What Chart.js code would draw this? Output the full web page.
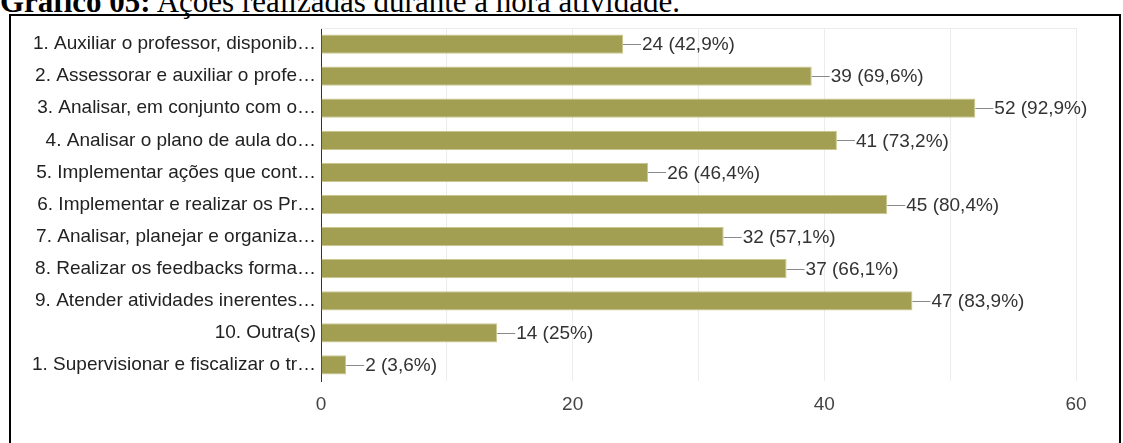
<!DOCTYPE html>
<html>
<head>
<meta charset="utf-8">
<script src="https://cdn.jsdelivr.net/npm/chart.js@4.4.1/dist/chart.umd.min.js"></script>
<style>
  html, body { margin: 0; padding: 0; background: #fff; width: 1123px; height: 443px; overflow: hidden; }
  .title { position: absolute; left: 0; top: -14px; font-family: "Liberation Serif", "Times New Roman", serif; font-size: 31px; line-height: 31px; color: #000; white-space: nowrap; }
  .frame { position: absolute; left: 9px; top: 14px; width: 1112px; height: 440px; border: 2px solid #000; box-sizing: border-box; }
  .chart-wrap { position: absolute; left: 10px; top: 16px; width: 1110px; height: 427px; }
</style>
</head>
<body>
<div class="title"><b>Gráfico 05:</b> Ações realizadas durante a hora atividade.</div>
<div class="frame"></div>
<div class="chart-wrap"><canvas id="acoesChart"></canvas></div>
<script>
// categories (truncated as in the original form export)
const categories = [
  '1. Auxiliar o professor, disponib…',
  '2. Assessorar e auxiliar o profe…',
  '3. Analisar, em conjunto com o…',
  '4. Analisar o plano de aula do…',
  '5. Implementar ações que cont…',
  '6. Implementar e realizar os Pr…',
  '7. Analisar, planejar e organiza…',
  '8. Realizar os feedbacks forma…',
  '9. Atender atividades inerentes…',
  '10. Outra(s)',
  '1. Supervisionar e fiscalizar o tr…'
];
const counts = [24, 39, 52, 41, 26, 45, 32, 37, 47, 14, 2];
const percents = ['42,9%', '69,6%', '92,9%', '73,2%', '46,4%', '80,4%', '57,1%', '66,1%', '83,9%', '25%', '3,6%'];
const xTicksShown = [0, 20, 40, 60];

const BAR_COLOR = '#a29f52';
const FONT = '"Liberation Sans", Arial, sans-serif';

// leader line + "n (p%)" after each bar
const valueLabels = {
  id: 'valueLabels',
  afterDatasetsDraw(chart) {
    const { ctx } = chart;
    const meta = chart.getDatasetMeta(0);
    ctx.save();
    ctx.font = '19px ' + FONT;
    ctx.textBaseline = 'middle';
    meta.data.forEach((bar, i) => {
      const x = bar.x, y = bar.y;
      ctx.strokeStyle = '#8a8a8a';
      ctx.lineWidth = 1;
      ctx.beginPath();
      ctx.moveTo(x, Math.round(y) + 0.5);
      ctx.lineTo(x + 18, Math.round(y) + 0.5);
      ctx.stroke();
      ctx.fillStyle = '#333';
      ctx.fillText(counts[i] + ' (' + percents[i] + ')', x + 19, y + 1);
    });
    // top edge of plot frame
    const a = chart.chartArea;
    ctx.strokeStyle = '#ececec';
    ctx.beginPath();
    ctx.moveTo(a.left, a.top + 0.5);
    ctx.lineTo(a.right, a.top + 0.5);
    ctx.stroke();
    ctx.restore();
  }
};

new Chart(document.getElementById('acoesChart').getContext('2d'), {
  type: 'bar',
  data: {
    labels: categories,
    datasets: [{
      data: counts,
      backgroundColor: BAR_COLOR,
      borderColor: '#c9c68e',
      borderWidth: 1,
      borderSkipped: 'start',
      barPercentage: 0.6,
      categoryPercentage: 1
    }]
  },
  options: {
    indexAxis: 'y',
    responsive: true,
    maintainAspectRatio: false,
    animation: false,
    layout: { padding: { top: 12, right: 44, bottom: 0, left: 0 } },
    plugins: { legend: { display: false }, tooltip: { enabled: false } },
    scales: {
      x: {
        min: 0, max: 60,
        ticks: {
          stepSize: 10,
          padding: 12,
          color: '#444',
          font: { family: FONT, size: 19 },
          callback: v => xTicksShown.includes(v) ? v : ''
        },
        grid: { color: '#ececec', drawTicks: false },
        border: { display: false },
        afterFit: s => { s.height = 62; }
      },
      y: {
        ticks: {
          padding: 5,
          color: '#222',
          font: { family: FONT, size: 19 }
        },
        grid: { display: false, drawTicks: false },
        border: { display: true, color: '#333', width: 1 },
        afterFit: s => { s.width = 311; s.paddingTop = 0; s.paddingBottom = 0; }
      }
    }
  },
  plugins: [valueLabels]
});
</script>
</body>
</html>
